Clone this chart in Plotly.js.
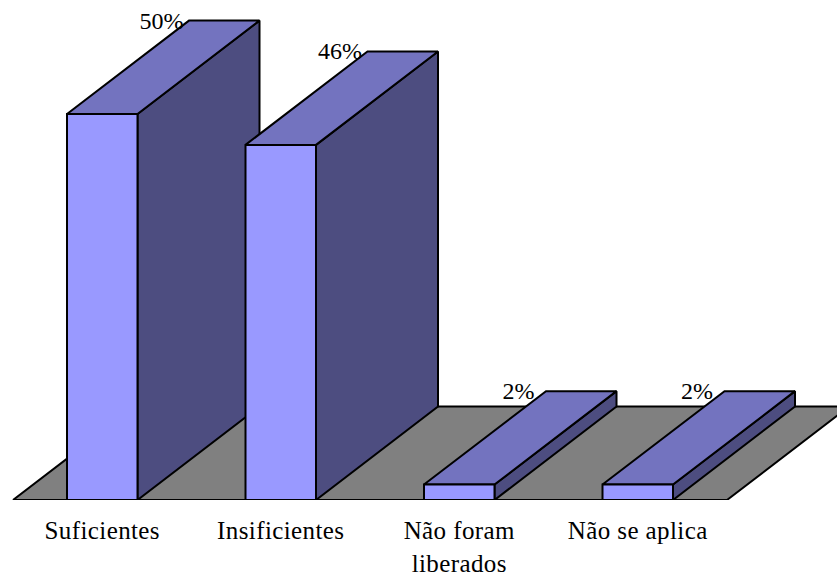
<!DOCTYPE html>
<html>
<head>
<meta charset="utf-8">
<script src="https://cdn.plot.ly/plotly-3.0.1.min.js"></script>
<style>html,body{margin:0;padding:0;background:#fff}#chart{width:837px;height:574px}
.xtick text{letter-spacing:0.4px}</style>
</head>
<body>
<div id="chart"></div>
<script>
const categories = ['Suficientes', 'Insificientes', 'Não foram<br>liberados', 'Não se aplica'];
const percentValues = [50, 46, 2, 2];
const percentLabels = ['50%', '46%', '2%', '2%'];

// projection of the oblique 3D view, in axis units (category index, percent)
const depthX = 0.6835, depthY = 12.1, halfBar = 0.1975;
const colors = {front: '#9999FF', top: '#7373BF', side: '#4D4D80', floor: '#808080'};

function poly(pts, fill) {
  return {
    type: 'scatter', mode: 'lines', hoverinfo: 'skip', showlegend: false, cliponaxis: false,
    x: pts.map(p => p[0]), y: pts.map(p => p[1]),
    fill: 'toself', fillcolor: fill,
    line: {color: '#000', width: 2, simplify: false}
  };
}
const traces = [];
const f0 = -0.5, f1 = categories.length - 0.5;
traces.push(Object.assign(poly([[f0,0],[f1,0],[f1+depthX,depthY],[f0+depthX,depthY],[f0,0]], colors.floor), {cliponaxis: false}));
percentValues.forEach((v, i) => {
  const l = i - halfBar, r = i + halfBar;
  traces.push(poly([[r,0],[r+depthX,depthY],[r+depthX,v+depthY],[r,v],[r,0]], colors.side));
  traces.push(poly([[l,v],[r,v],[r+depthX,v+depthY],[l+depthX,v+depthY],[l,v]], colors.top));
  traces.push(poly([[l,0],[r,0],[r,v],[l,v],[l,0]], colors.front));
});
traces.push({
  type: 'scatter', mode: 'text', hoverinfo: 'skip', showlegend: false, cliponaxis: false,
  x: percentValues.map((v, i) => i - halfBar + depthX - 0.154),
  y: percentValues.map(v => v + depthY - 0.25),
  text: percentLabels, textposition: 'middle center',
  textfont: {family: '"Liberation Serif", serif', size: 24, color: '#000'}
});

const pxX = 178.5, pxY = 7.72;
const layout = {
  width: 837, height: 574, autosize: false,
  margin: {l: 0, r: 0, t: 0, b: 74, pad: 0},
  paper_bgcolor: '#fff', plot_bgcolor: 'rgba(0,0,0,0)', showlegend: false,
  xaxis: {
    range: [-0.5 - 13 / pxX, -0.5 + 824 / pxX], fixedrange: true,
    tickmode: 'array', tickvals: categories.map((c, i) => i), ticktext: categories, tickangle: 0,
    ticklen: 0, showgrid: false, zeroline: false, showline: false, ticklabelstandoff: 13,
    tickfont: {family: '"Liberation Serif", serif', size: 25, color: '#000'}
  },
  yaxis: {range: [0, 500 / pxY], fixedrange: true, visible: false, showgrid: false, zeroline: false}
};
Plotly.newPlot('chart', traces, layout, {displayModeBar: false, staticPlot: true});
</script>
</body>
</html>
